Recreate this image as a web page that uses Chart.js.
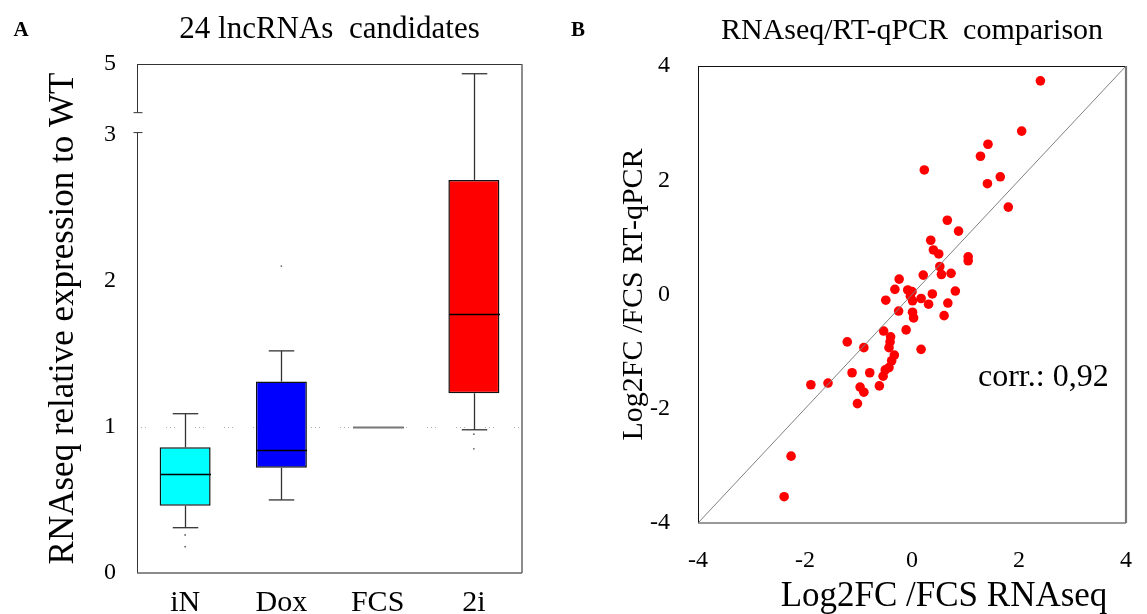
<!DOCTYPE html>
<html>
<head>
<meta charset="utf-8">
<script src="https://cdn.jsdelivr.net/npm/chart.js@4/dist/chart.umd.min.js"></script>
<style>
  body { margin: 0; background: #fff; }
  #wrapA { position: absolute; left: 0; top: 0; width: 570px; height: 614px; }
  #wrapB { position: absolute; left: 570px; top: 0; width: 577px; height: 614px; }
</style>
</head>
<body>
<div id="wrapA"><canvas id="boxChart"></canvas></div>
<div id="wrapB"><canvas id="corrChart"></canvas></div>
<script>
// A: 24 lncRNAs, expression relative to WT
const groups = ["iN", "Dox", "FCS", "2i"];
const whiskerLow = [0.31, 0.50, 1.00, 0.98];
const boxLow = [0.46, 0.72, 1.00, 1.23];
const medians = [0.68, 0.84, 1.00, 1.77];
const boxHigh = [0.86, 1.31, 1.00, 2.69];
const whiskerHigh = [1.09, 1.52, 1.00, 4.80];
const outlierGroup = ["iN", "iN", "Dox", "2i", "2i"];
const outlierValue = [0.26, 0.18, 2.10, 0.95, 0.85];
const yTicksA = [0, 1, 2, 3, 5];

// B: log2FC vs FCS, RNAseq against RT-qPCR
const rnaseq = [2.40, 2.05, 1.42, 1.28, 0.23, 1.65, 1.41, 1.80, 0.66, 0.87, 0.35, 0.40, 0.50, 1.05, 1.05, 0.52, 0.73, 0.55, 0.21, -0.24,
  -0.32, -0.08, 0.00, -0.03, 0.01, 0.17, 0.38, 0.81, -0.49, 0.31, 0.67, -0.25, 0.01, 0.03, 0.60, -0.11, -0.53, -0.40, -0.41, -0.43,
  0.17, -1.21, -0.90, -0.33, -0.38, -0.43, -0.50, -0.54, -1.12, -0.79, -0.61, -0.97, -0.90, -1.02, -1.89, -1.57, -2.26, -2.39];
const qpcr = [3.74, 2.86, 2.63, 2.42, 2.18, 2.06, 1.94, 1.53, 1.30, 1.11, 0.95, 0.78, 0.71, 0.66, 0.59, 0.49, 0.37, 0.35, 0.34, 0.27,
  0.09, 0.08, 0.05, -0.03, -0.11, -0.07, 0.01, 0.06, -0.10, -0.17, -0.15, -0.29, -0.31, -0.41, -0.37, -0.62, -0.64, -0.74, -0.83, -0.93,
  -0.96, -0.83, -0.93, -1.06, -1.16, -1.28, -1.32, -1.43, -1.37, -1.37, -1.60, -1.62, -1.71, -1.91, -1.58, -1.55, -2.83, -3.54];
const ticksB = [-4, -2, 0, 2, 4];
const corrText = "corr.: 0,92";

const serif = "'Liberation Serif', 'Times New Roman', serif";
Chart.defaults.font.family = serif;
Chart.defaults.color = "#000";

// y axis with a break between 3 and 4 (upper part is squeezed)
class BrokenScale extends Chart.LinearScale {
  toU(v) {
    if (v <= 3) return v;
    if (v <= 4) return 3 + (v - 3) * 0.15;
    return 3.15 + (v - 4) * 0.333;
  }
  fromU(u) {
    if (u <= 3) return u;
    if (u <= 3.15) return 3 + (u - 3) / 0.15;
    return 4 + (u - 3.15) / 0.333;
  }
  buildTicks() {
    return yTicksA.map(v => ({ value: v }));
  }
  getPixelForValue(v) {
    if (v === null || v === undefined) return NaN;
    return super.getPixelForValue(this.toU(v));
  }
  getValueForPixel(p) {
    return this.fromU(super.getValueForPixel(p));
  }
}
BrokenScale.id = "broken";
BrokenScale.defaults = Chart.LinearScale.defaults;
Chart.register(BrokenScale);

function line(ctx, x1, y1, x2, y2) {
  ctx.beginPath();
  ctx.moveTo(x1, y1);
  ctx.lineTo(x2, y2);
  ctx.stroke();
}

const boxParts = {
  id: "boxParts",
  beforeDatasetsDraw(chart) {
    const { ctx, chartArea: a, scales: { y } } = chart;
    const y1 = Math.round(y.getPixelForValue(1)) + 0.5;
    ctx.save();
    ctx.strokeStyle = "#b0b0b0";
    ctx.lineWidth = 1;
    ctx.setLineDash([1, 3, 1, 3, 1, 20]);
    line(ctx, a.left, y1, a.right, y1);
    ctx.restore();
  },
  afterDatasetsDraw(chart) {
    const { ctx, scales: { x, y } } = chart;
    const bars = chart.getDatasetMeta(0).data;
    ctx.save();
    groups.forEach((g, i) => {
      const cx = Math.round(x.getPixelForValue(i)) + 0.5;
      const half = bars[i].width / 2;
      const cap = half / 2;
      ctx.strokeStyle = "#333";
      ctx.lineWidth = 1.3;
      if (whiskerHigh[i] > boxHigh[i]) {
        line(ctx, cx, y.getPixelForValue(boxHigh[i]), cx, y.getPixelForValue(whiskerHigh[i]));
        line(ctx, cx - cap, y.getPixelForValue(whiskerHigh[i]), cx + cap, y.getPixelForValue(whiskerHigh[i]));
      }
      if (whiskerLow[i] < boxLow[i]) {
        line(ctx, cx, y.getPixelForValue(boxLow[i]), cx, y.getPixelForValue(whiskerLow[i]));
        line(ctx, cx - cap, y.getPixelForValue(whiskerLow[i]), cx + cap, y.getPixelForValue(whiskerLow[i]));
      }
      const flat = boxLow[i] === boxHigh[i];
      ctx.strokeStyle = flat ? "#777" : "#000";
      ctx.lineWidth = flat ? 2 : 1.3;
      const my = Math.round(y.getPixelForValue(medians[i])) + 0.5;
      line(ctx, cx - half, my, cx + half, my);
    });
    ctx.restore();
  },
  afterDraw(chart) {
    const { ctx, chartArea: a, scales: { y } } = chart;
    const L = a.left + 0.5;
    const brkHi = y.getPixelForValue(4);
    const brkLo = y.getPixelForValue(3) - 2;
    ctx.save();
    ctx.lineWidth = 1;
    ctx.strokeStyle = "#333";
    line(ctx, L, a.top + 0.5, a.right, a.top + 0.5);
    line(ctx, L, a.top, L, brkHi);
    line(ctx, L, brkLo, L, a.bottom);
    line(ctx, L - 4, brkHi, L + 5, brkHi);
    line(ctx, L - 4, brkLo, L + 5, brkLo);
    ctx.strokeStyle = "#666";
    ctx.lineWidth = 1.5;
    line(ctx, a.left, a.bottom, a.right, a.bottom);
    line(ctx, a.right, a.top, a.right, a.bottom);
    ctx.fillStyle = "#000";
    ctx.font = "bold 21px " + serif;
    ctx.textAlign = "center";
    ctx.textBaseline = "middle";
    ctx.fillText("A", 21, 31);
    ctx.restore();
  }
};

new Chart(document.getElementById("boxChart"), {
  type: "bar",
  data: {
    labels: groups,
    datasets: [{
      data: groups.map((g, i) => [boxLow[i], boxHigh[i]]),
      backgroundColor: ["#00ffff", "#0000ff", "#ffffff", "#ff0000"],
      borderColor: "#111",
      borderWidth: [1.5, 1.5, 0, 1.5],
      borderSkipped: false,
      barPercentage: 0.53,
      categoryPercentage: 1
    }, {
      type: "scatter",
      data: outlierGroup.map((g, i) => ({ x: g, y: outlierValue[i] })),
      pointRadius: 0.9,
      pointBackgroundColor: "#666",
      pointBorderWidth: 0
    }]
  },
  options: {
    responsive: true,
    maintainAspectRatio: false,
    animation: false,
    layout: { padding: { left: 0, right: 48, top: 0, bottom: 0 } },
    plugins: {
      legend: { display: false },
      tooltip: { enabled: false },
      title: {
        display: true,
        text: "24 lncRNAs  candidates",
        fullSize: false,
        font: { family: serif, size: 31, weight: "normal" },
        color: "#000",
        padding: { top: 11, bottom: 15.8 }
      }
    },
    scales: {
      x: {
        type: "category",
        grid: { display: false },
        border: { display: false },
        ticks: { font: { family: serif, size: 30 }, padding: 4 },
        afterFit: s => { s.height = 41; }
      },
      y: {
        type: "broken",
        min: 0,
        max: 3.483,
        grid: { display: false },
        border: { display: false },
        ticks: { font: { family: serif, size: 24 }, padding: 13, callback: v => String(v) },
        title: {
          display: true,
          text: "RNAseq relative expression to WT",
          font: { family: serif, size: 35 },
          padding: { top: 43, bottom: 0 }
        },
        afterFit: s => { s.width = 137; }
      }
    }
  },
  plugins: [boxParts]
});

const corrParts = {
  id: "corrParts",
  afterDraw(chart) {
    const { ctx, chartArea: a } = chart;
    ctx.save();
    ctx.strokeStyle = "#111";
    ctx.lineWidth = 1;
    line(ctx, a.left + 0.5, a.top + 0.5, a.right, a.top + 0.5);
    line(ctx, a.left + 0.5, a.top, a.left + 0.5, a.bottom);
    ctx.strokeStyle = "#777";
    ctx.lineWidth = 1.5;
    line(ctx, a.left, a.bottom, a.right, a.bottom);
    ctx.lineWidth = 2.2;
    line(ctx, a.right, a.top, a.right, a.bottom);
    ctx.fillStyle = "#000";
    ctx.textBaseline = "middle";
    ctx.textAlign = "left";
    ctx.font = "32px " + serif;
    ctx.fillText(corrText, 408, 378);
    ctx.textAlign = "center";
    ctx.font = "35px " + serif;
    ctx.fillText("Log2FC /FCS RNAseq", 374, 597);
    ctx.font = "bold 21px " + serif;
    ctx.fillText("B", 8, 31);
    ctx.restore();
  }
};

const lim = [ticksB[0], ticksB[ticksB.length - 1]];
new Chart(document.getElementById("corrChart"), {
  type: "scatter",
  data: {
    datasets: [{
      type: "line",
      data: lim.map(v => ({ x: v, y: v })),
      borderColor: "#808080",
      borderWidth: 1,
      pointRadius: 0
    }, {
      data: rnaseq.map((v, i) => ({ x: v, y: qpcr[i] })),
      pointRadius: 4.8,
      pointBackgroundColor: "#ff0000",
      pointBorderWidth: 0
    }]
  },
  options: {
    responsive: true,
    maintainAspectRatio: false,
    animation: false,
    layout: { padding: { left: 0, right: 8, top: 0, bottom: 0 } },
    plugins: {
      legend: { display: false },
      tooltip: { enabled: false },
      title: {
        display: true,
        text: "RNAseq/RT-qPCR  comparison",
        fullSize: false,
        font: { family: serif, size: 30, weight: "normal" },
        color: "#000",
        padding: { top: 13, bottom: 17 }
      }
    },
    scales: {
      x: {
        type: "linear",
        min: lim[0],
        max: lim[1],
        grid: { display: false },
        border: { display: false },
        ticks: { font: { family: serif, size: 24 }, padding: 15 },
        afterBuildTicks: s => { s.ticks = ticksB.map(v => ({ value: v })); },
        afterFit: s => { s.height = 91; }
      },
      y: {
        type: "linear",
        min: lim[0],
        max: lim[1],
        grid: { display: false },
        border: { display: false },
        ticks: { font: { family: serif, size: 24 }, padding: 20 },
        afterBuildTicks: s => { s.ticks = ticksB.map(v => ({ value: v })); },
        title: {
          display: true,
          text: "Log2FC /FCS RT-qPCR",
          font: { family: serif, size: 30 },
          padding: { top: 46, bottom: 0 }
        },
        afterFit: s => { s.width = 128; }
      }
    }
  },
  plugins: [corrParts]
});
</script>
</body>
</html>
